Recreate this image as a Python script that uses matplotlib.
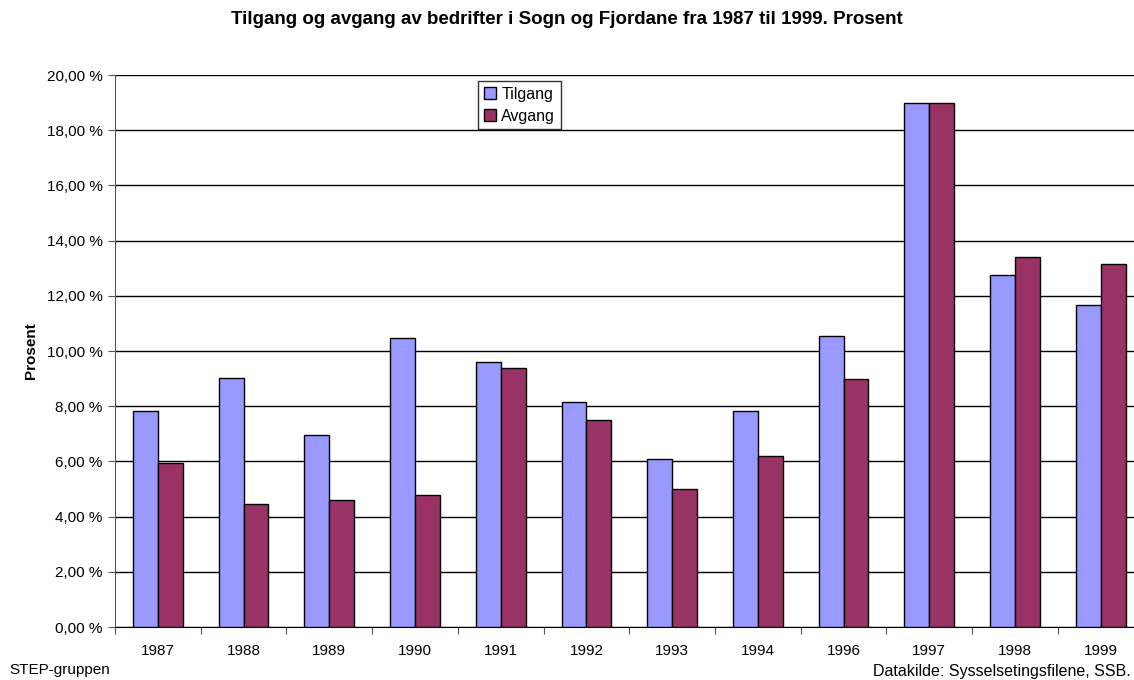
import numpy as np
import matplotlib
matplotlib.use("Agg")
from matplotlib import pyplot as plt

plt.rcParams['font.family'] = ['Liberation Sans', 'DejaVu Sans']

# Years and rates (percent)
years = ['1987', '1988', '1989', '1990', '1991', '1992', '1993', '1994', '1996', '1997', '1998', '1999']
tilgang = [7.83, 9.02, 6.96, 10.47, 9.60, 8.15, 6.09, 7.83, 10.54, 18.99, 12.75, 11.67]
avgang = [5.94, 4.46, 4.60, 4.78, 9.38, 7.50, 5.00, 6.20, 8.99, 18.99, 13.41, 13.15]
yticks = np.arange(0, 21, 2)

fig = plt.figure(figsize=(11.34, 6.8), dpi=100)
# plot area runs slightly past the right edge of the picture, as in the original
ax = fig.add_axes([0.1014, 0.0779, 0.907, 0.8118])

x = np.arange(len(years))
w = 0.29
ax.bar(x - w / 2, tilgang, w, color='#9999FF', edgecolor='black', linewidth=1, label='Tilgang', zorder=3)
ax.bar(x + w / 2, avgang, w, color='#993366', edgecolor='black', linewidth=1, label='Avgang', zorder=3)

ax.set_xlim(-0.5, len(years) - 0.5)
ax.set_ylim(0, 20)
ax.set_yticks(yticks)
ax.set_yticklabels(['%d,00 %%' % v for v in yticks], fontsize=11)
ax.yaxis.grid(True, color='black', linewidth=1, zorder=0)

# category labels centred, ticks at category boundaries
ax.set_xticks(np.arange(-0.5, len(years), 1))
ax.set_xticklabels([])
ax.set_xticks(x, minor=True)
ax.set_xticklabels(years, minor=True, fontsize=11)
ax.tick_params(axis='x', which='minor', length=0, pad=12)
ax.tick_params(axis='x', which='major', length=5, color='#555555', direction='out')
ax.tick_params(axis='y', length=5, color='#555555', direction='out', pad=4)

for s in ['top', 'right']:
    ax.spines[s].set_visible(False)
ax.spines['left'].set_color('#555555')
ax.spines['bottom'].set_color('black')

ax.set_ylabel('Prosent', fontsize=11, fontweight='bold', labelpad=6)

leg = ax.legend(loc='upper left', bbox_to_anchor=(0.353, 0.989), borderaxespad=0, fontsize=11.5,
                frameon=True, fancybox=False, edgecolor='black', handlelength=0.8,
                handleheight=0.8, handletextpad=0.3, borderpad=0.35, labelspacing=0.45)
leg.get_frame().set_linewidth(1)

fig.text(0.5, 0.972, 'Tilgang og avgang av bedrifter i Sogn og Fjordane fra 1987 til 1999. Prosent',
         ha='center', va='center', fontsize=13.5, fontweight='bold')
fig.text(0.008, 0.014, 'STEP-gruppen', ha='left', va='center', fontsize=11)
fig.text(0.997, 0.012, 'Datakilde: Sysselsetingsfilene, SSB.', ha='right', va='center', fontsize=11.5)

fig.savefig('out.png', dpi=100)
